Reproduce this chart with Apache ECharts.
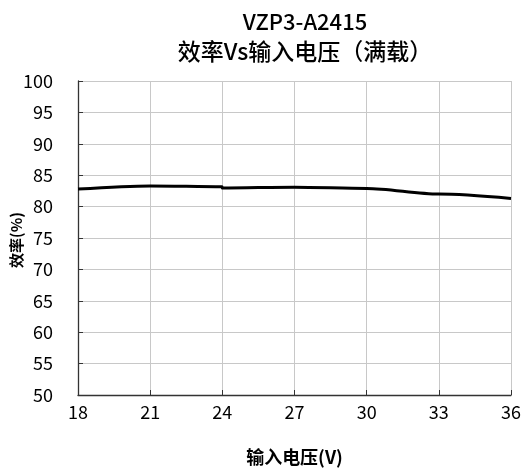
<!DOCTYPE html>
<html><head><meta charset="utf-8">
<script src="https://cdn.jsdelivr.net/npm/echarts@6/dist/echarts.min.js"></script>
<style>html,body{margin:0;padding:0;background:#fff}#c{width:522px;height:468px}</style>
</head><body><div id="c"></div>
<script>
const titleLines = ['VZP3-A2415', '效率Vs输入电压（满载）'];
const xName = '输入电压(V)';
const yName = '效率(%)';
const inputVoltage = [18, 21, 23.99, 24, 27, 30, 33, 36];
const efficiency = [82.8, 83.3, 83.15, 82.95, 83.1, 82.9, 82.0, 81.3];
const xTicks = {min: 18, max: 36, interval: 3};
const yTicks = {min: 50, max: 100, interval: 5};

const font = '"Noto Sans CJK SC", sans-serif';
const chart = echarts.init(document.getElementById('c'));
chart.setOption({
  animation: false,
  backgroundColor: '#fff',
  title: {
    text: '{a|' + titleLines[0] + '}\n{b|' + titleLines[1] + '}',
    left: 300, textAlign: 'center', top: 3,
    textStyle: {
      fontFamily: font, color: '#000',
      rich: {
        a: {fontFamily: font, fontSize: 22, fontWeight: 500, color: '#000', lineHeight: 28, align: 'center'},
        b: {fontFamily: font, fontSize: 23, fontWeight: 500, color: '#000', lineHeight: 30, align: 'center'}
      }
    }
  },
  grid: {left: 78, right: 11, top: 81, bottom: 73, containLabel: false, outerBoundsMode: 'none'},
  graphic: [{
    type: 'text', x: 16, y: 240, rotation: Math.PI / 2,
    style: {text: yName, fontFamily: font, fontSize: 15, fontWeight: 'bold', fill: '#000',
      align: 'center', verticalAlign: 'middle'}
  }],
  xAxis: {
    type: 'value', min: xTicks.min, max: xTicks.max, interval: xTicks.interval,
    name: xName, nameLocation: 'middle', nameGap: 53,
    nameTextStyle: {fontFamily: font, fontSize: 18, fontWeight: 'bold', color: '#000'},
    axisLine: {lineStyle: {color: '#333', width: 1.3}},
    axisTick: {inside: true, length: 5, lineStyle: {color: '#333'}},
    axisLabel: {fontFamily: font, fontSize: 18, color: '#000', margin: 8},
    splitLine: {show: true, lineStyle: {color: '#c8c8c8', width: 1}}
  },
  yAxis: {
    type: 'value', min: yTicks.min, max: yTicks.max, interval: yTicks.interval,
    axisLine: {show: true, lineStyle: {color: '#333', width: 1.3}},
    axisTick: {show: true, inside: true, length: 5, lineStyle: {color: '#333'}},
    axisLabel: {fontFamily: font, fontSize: 18, color: '#000', margin: 25},
    splitLine: {show: true, lineStyle: {color: '#c8c8c8', width: 1}}
  },
  series: [{
    type: 'line', data: inputVoltage.map((x, i) => [x, efficiency[i]]),
    smooth: 0.3, smoothMonotone: 'x', showSymbol: false,
    lineStyle: {color: '#000', width: 3}
  }]
});
</script></body></html>
